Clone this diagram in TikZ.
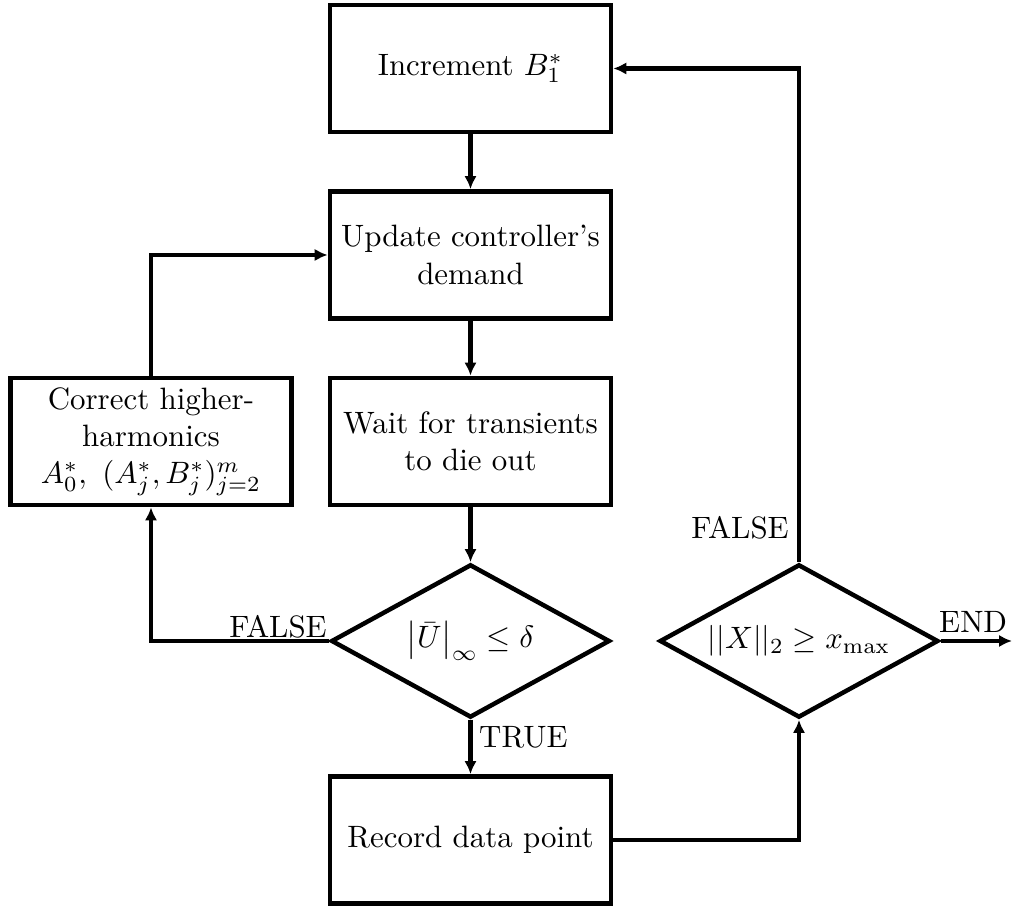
\documentclass[tikz,border=0pt]{standalone}
\usetikzlibrary{shapes.geometric,arrows.meta}
\begin{document}
\begin{tikzpicture}[x=0.3236pt,y=-0.3236pt,
  line width=1.45pt,
  procbox/.style={draw, rectangle, minimum width=91pt, minimum height=41.2pt, align=center, inner sep=0pt},
  decbox/.style={draw, diamond, minimum width=90.2pt, minimum height=49.6pt, inner sep=0pt, aspect=1.8},
  flow/.style={-{Latex[length=4.2pt,width=4pt]}},
  lbl/.style={inner sep=0pt}]
\useasboundingbox (0,0) rectangle (1014,908);
\node[procbox] (inc) at (470.5,68.5) {Increment $B_1^*$};
\node[procbox] (upd) at (470.5,255) {Update controller's\\demand};
\node[procbox] (wait) at (470.5,441.5) {Wait for transients\\to die out};
\node[procbox] (corr) at (151,441.5) {Correct higher-\\harmonics\\$A_0^*,\ (A_j^*,B_j^*)_{j=2}^m$};
\node[decbox] (d1) at (470.5,641) {$\left|\bar{U}\right|_\infty \leq \delta$};
\node[decbox] (d2) at (799,641) {$||X||_2 \geq x_{\max}$};
\node[procbox] (rec) at (470.5,840) {Record data point};
\coordinate (endpt) at (1012,641);

\draw[flow] (inc) -- (upd);
\draw[flow] (upd) -- (wait);
\draw[flow] (wait) -- (d1);
\draw[flow] (d1.west) -| (corr.south);
\draw[flow] (corr.north) |- (upd.west);
\draw[flow] (d1.south) -- (rec.north);
\draw[flow] (rec.east) -| (d2.south);
\draw[flow] (d2.north) |- (inc.east);
\draw[flow] (d2.east) -- (endpt);

\node[lbl, anchor=base east] (lf1) at (329,638) {FALSE};
\node[lbl, anchor=base east] (lf2) at (791,539) {FALSE};
\node[lbl, anchor=base west] (lend) at (937,633) {END};
\node[lbl, anchor=base west] (ltrue) at (477,748) {TRUE};
\end{tikzpicture}
\end{document}
